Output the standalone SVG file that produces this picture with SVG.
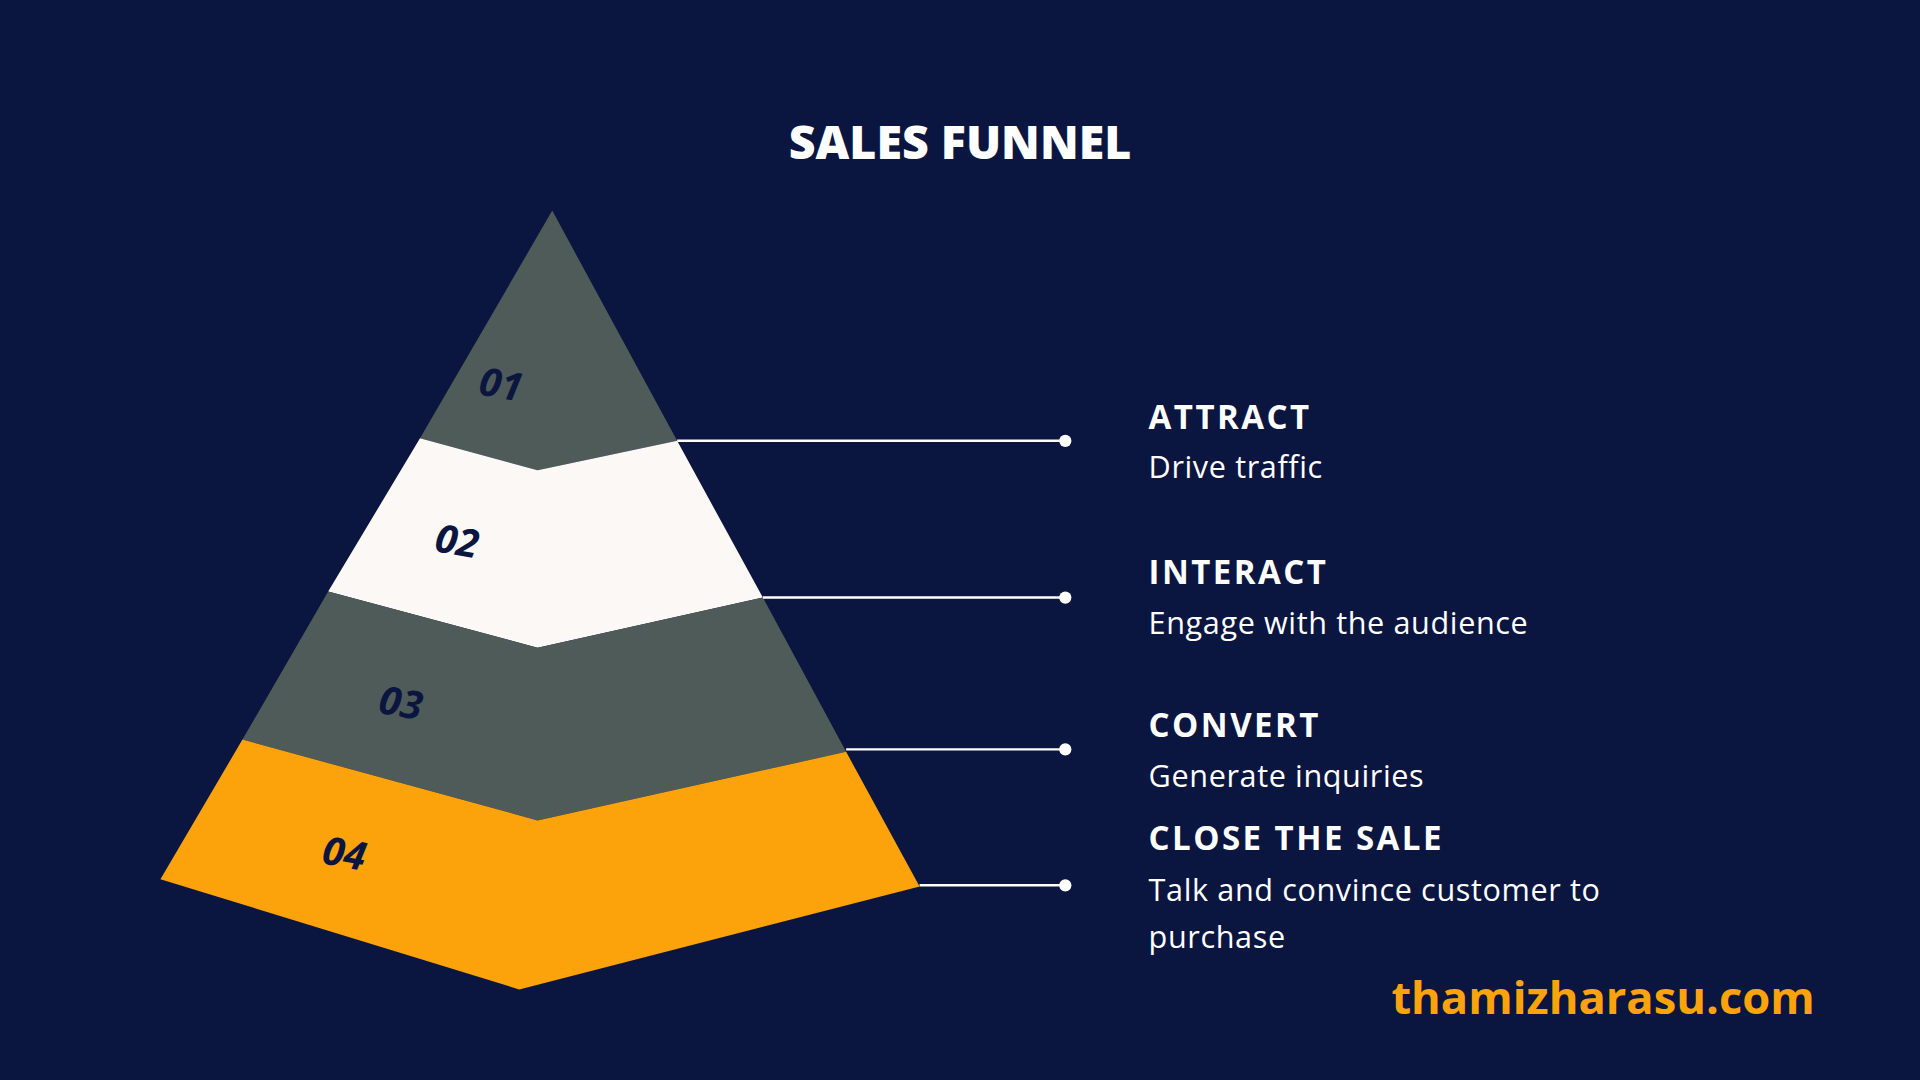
<svg xmlns="http://www.w3.org/2000/svg" width="1920" height="1080" viewBox="0 0 1920 1080">
<style>
.h{font-family:"Open Sans","Liberation Sans",sans-serif;font-weight:700;fill:#fff;font-size:27px;letter-spacing:2px}
.d{font-family:"Open Sans","Liberation Sans",sans-serif;fill:#fff;font-size:25px;letter-spacing:0.5px}
.n{font-family:"Open Sans","Liberation Sans",sans-serif;font-weight:700;font-style:italic;fill:#0a1540;font-size:32px}
.c line{stroke:#fff;stroke-width:2}
.c circle{fill:#fff}
</style>
<rect width="1920" height="1080" fill="#0a1540"/>
<g transform="scale(1.2245)">
<text x="784" y="130" text-anchor="middle" font-family="Open Sans,Liberation Sans,sans-serif" font-weight="800" font-size="38" fill="#fff">SALES FUNNEL</text>
<g id="layer1"><polygon points="451,172 343,358 439,384 553,360" fill="#4f5b58"/><text class="n" transform="translate(390,322) rotate(10)">01</text></g>
<g id="layer2"><polygon points="343,358 439,384 553,360 623,488 439,529 268,483" fill="#fbf8f5"/><text class="n" transform="translate(354,450) rotate(10)">02</text></g>
<g id="layer3"><polygon points="268,483 439,529 623,488 691,614 439,670 198,604" fill="#4f5b58"/><text class="n" transform="translate(308,582) rotate(10)">03</text></g>
<g id="layer4"><polygon points="198,604 439,670 691,614 751,724 424,808 131,718" fill="#fca30b"/><text class="n" transform="translate(262,705) rotate(10)">04</text></g>
<g class="c" id="connectors">
<line x1="553" y1="360" x2="870" y2="360"/><circle cx="870" cy="360" r="5"/>
<line x1="623" y1="488" x2="870" y2="488"/><circle cx="870" cy="488" r="5"/>
<line x1="691" y1="612" x2="870" y2="612"/><circle cx="870" cy="612" r="5"/>
<line x1="751" y1="723" x2="870" y2="723"/><circle cx="870" cy="723" r="5"/>
</g>
<g id="t1"><text class="h" x="938" y="350">ATTRACT</text><text class="d" x="938" y="390">Drive traffic</text></g>
<g id="t2"><text class="h" x="938" y="477">INTERACT</text><text class="d" x="938" y="518">Engage with the audience</text></g>
<g id="t3"><text class="h" x="938" y="602">CONVERT</text><text class="d" x="938" y="643">Generate inquiries</text></g>
<g id="t4"><text class="h" x="938" y="694">CLOSE THE SALE</text><text class="d" x="938" y="736">Talk and convince customer to</text><text class="d" x="938" y="774">purchase</text></g>
<text x="1482" y="828" text-anchor="end" font-family="Open Sans,Liberation Sans,sans-serif" font-weight="700" font-size="37" fill="#fca30b">thamizharasu.com</text>
</g>
</svg>
